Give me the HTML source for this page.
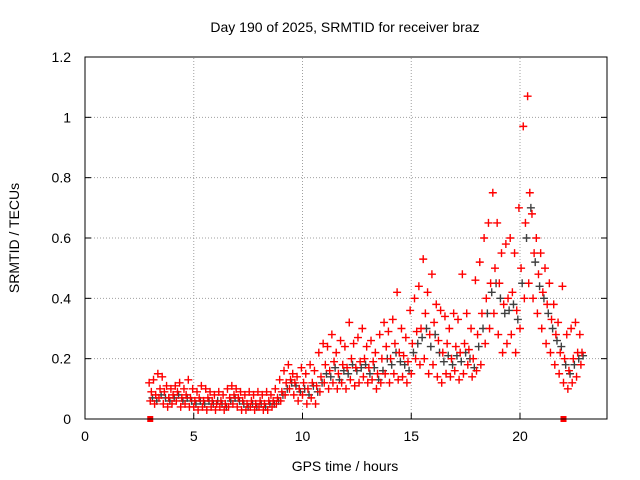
<!DOCTYPE html>
<html><head><meta charset="utf-8"><style>
body{margin:0;background:#fff;}
svg{display:block;font-family:"Liberation Sans",sans-serif;}
</style></head><body>
<svg id="chart" width="640" height="480">
<text x="345" y="32" text-anchor="middle" font-size="14">Day 190 of 2025, SRMTID for receiver braz</text>
<text x="345" y="471" text-anchor="middle" font-size="14">GPS time / hours</text>
<text transform="translate(19,238) rotate(-90)" text-anchor="middle" font-size="14">SRMTID / TECUs</text>
<g id="grid"></g><g id="ticks"></g><g id="marks"></g>
<rect x="85" y="57" width="522" height="362" fill="none" stroke="#000" stroke-width="1"/>
</svg>
<script>
const times=[3.0,3.2,3.4,3.6,3.8,4.0,4.2,4.4,4.6,4.8,5.0,5.2,5.4,5.6,5.8,6.0,6.2,6.4,6.6,6.8,7.0,7.2,7.4,7.6,7.8,8.0,8.2,8.4,8.6,8.8,9.0,9.2,9.4,9.6,9.8,10.0,10.2,10.4,10.6,10.8,11.0,11.2,11.4,11.6,11.8,12.0,12.2,12.4,12.6,12.8,13.0,13.2,13.4,13.6,13.8,14.0,14.2,14.4,14.6,14.8,15.0,15.2,15.4,15.6,15.8,16.0,16.2,16.4,16.6,16.8,17.0,17.2,17.4,17.6,17.8,18.0,18.2,18.4,18.6,18.8,19.0,19.2,19.4,19.6,19.8,20.0,20.2,20.4,20.6,20.8,21.0,21.2,21.4,21.6,21.8,22.0,22.2,22.4,22.6,22.8];
const redLow=[.06,.05,.07,.05,.04,.05,.06,.04,.05,.04,.04,.03,.04,.03,.04,.03,.04,.03,.04,.05,.04,.03,.03,.04,.03,.04,.03,.03,.04,.05,.06,.08,.10,.08,.06,.08,.05,.07,.05,.09,.12,.10,.12,.10,.12,.10,.13,.11,.12,.14,.12,.13,.10,.12,.15,.12,.15,.13,.14,.12,.15,.20,.18,.20,.15,.18,.14,.12,.15,.14,.16,.13,.15,.18,.14,.16,.18,.25,.30,.35,.28,.22,.25,.28,.22,.30,.40,.45,.40,.35,.30,.25,.22,.18,.15,.12,.10,.12,.14,.18];
const redMid=[.09,.08,.10,.09,.07,.08,.09,.07,.08,.07,.06,.07,.06,.07,.06,.05,.06,.05,.07,.08,.07,.06,.05,.06,.05,.06,.05,.06,.06,.07,.09,.12,.13,.12,.10,.12,.10,.12,.11,.14,.18,.16,.19,.15,.18,.17,.20,.17,.19,.20,.17,.19,.15,.20,.24,.20,.25,.22,.21,.19,.25,.29,.30,.35,.28,.32,.26,.22,.25,.20,.24,.22,.25,.23,.20,.28,.35,.40,.45,.50,.45,.38,.40,.42,.36,.50,.65,.75,.55,.48,.42,.38,.33,.28,.22,.20,.16,.20,.22,.22];
const redHigh=[.12,.13,.15,.14,.11,.10,.11,.12,.10,.13,.10,.09,.11,.10,.09,.08,.09,.08,.10,.11,.10,.09,.08,.09,.08,.09,.08,.09,.08,.10,.13,.16,.18,.15,.14,.17,.15,.18,.16,.22,.25,.24,.28,.22,.26,.24,.32,.25,.27,.30,.24,.26,.22,.28,.32,.29,.33,.42,.30,.27,.36,.40,.44,.53,.42,.48,.38,.36,.34,.30,.35,.33,.48,.35,.30,.46,.52,.60,.65,.75,.65,.55,.58,.60,.55,.70,.97,1.07,.68,.60,.55,.50,.45,.38,.32,.44,.28,.30,.32,.28];
const grayVals=[.07,.06,.08,.07,.06,.07,.08,.06,.07,.06,.05,.06,.05,.06,.05,.06,.05,.04,.06,.07,.06,.05,.04,.05,.04,.05,.04,.05,.05,.06,.08,.10,.12,.11,.09,.10,.08,.11,.09,.12,.15,.14,.17,.13,.16,.15,.18,.16,.17,.18,.15,.17,.13,.16,.20,.18,.22,.19,.18,.16,.22,.25,.27,.30,.24,.28,.22,.19,.21,.18,.21,.19,.22,.20,.17,.24,.30,.35,.42,.45,.40,.35,.36,.38,.33,.45,.60,.70,.52,.44,.40,.35,.30,.26,.24,.18,.15,.18,.20,.21];
const xTicks=[0,5,10,15,20];
const yTicks=[0,0.2,0.4,0.6,0.8,1,1.2];
const NS='http://www.w3.org/2000/svg';
const X0=85,X1=607,Y0=419,Y1=57,XMAX=24,YMAX=1.2;
const xs=t=>X0+(X1-X0)*t/XMAX, ys=v=>Y0-(Y0-Y1)*v/YMAX;
function mk(tag,attrs,parent){const e=document.createElementNS(NS,tag);for(const k in attrs)e.setAttribute(k,attrs[k]);parent.appendChild(e);return e;}
const grid=document.getElementById('grid'),ticks=document.getElementById('ticks'),marks=document.getElementById('marks');
xTicks.forEach(t=>{const x=xs(t);
 if(t>0){const g=mk('line',{x1:x,x2:x,y1:Y0,y2:Y1,stroke:'#a0a0a0','stroke-dasharray':'1,2'},grid);
 
 }
 mk('line',{x1:x,x2:x,y1:Y0,y2:Y0-6,stroke:'#000'},ticks);
 const l=mk('text',{x:x,y:Y0+22,'text-anchor':'middle','font-size':14},ticks);l.textContent=t;
 
 });
yTicks.forEach(v=>{const y=ys(v);
 if(v>0&&v<1.2){const g=mk('line',{x1:X0,x2:X1,y1:y,y2:y,stroke:'#a0a0a0','stroke-dasharray':'1,2'},grid);
 
 }
 mk('line',{x1:X0,x2:X0+6,y1:y,y2:y,stroke:'#000'},ticks);
 mk('line',{x1:X1,x2:X1-6,y1:y,y2:y,stroke:'#000'},ticks);
 const l=mk('text',{x:X0-14,y:y+5,'text-anchor':'end','font-size':14},ticks);l.textContent=v;
 
 });
function plus(t,v,col,name){const x=xs(t),y=ys(v);
 const p=mk('path',{d:`M${x-4},${y}h8M${x},${y-4}v8`,stroke:col,'stroke-width':1.4},marks);
 
 }
times.forEach((t,i)=>{plus(t+0.1,grayVals[i],'#404040','gray-point');});
times.forEach((t,i)=>{plus(t,redLow[i],'#ff0000','red-point');plus(t+0.05,redMid[i],'#ff0000','red-point');plus(t-0.05,redHigh[i],'#ff0000','red-point');});
[3,22].forEach(t=>{const r=mk('rect',{x:xs(t)-3,y:Y0-3,width:6,height:6,fill:'#ff0000'},marks);
 
 });
</script>
</body></html>
